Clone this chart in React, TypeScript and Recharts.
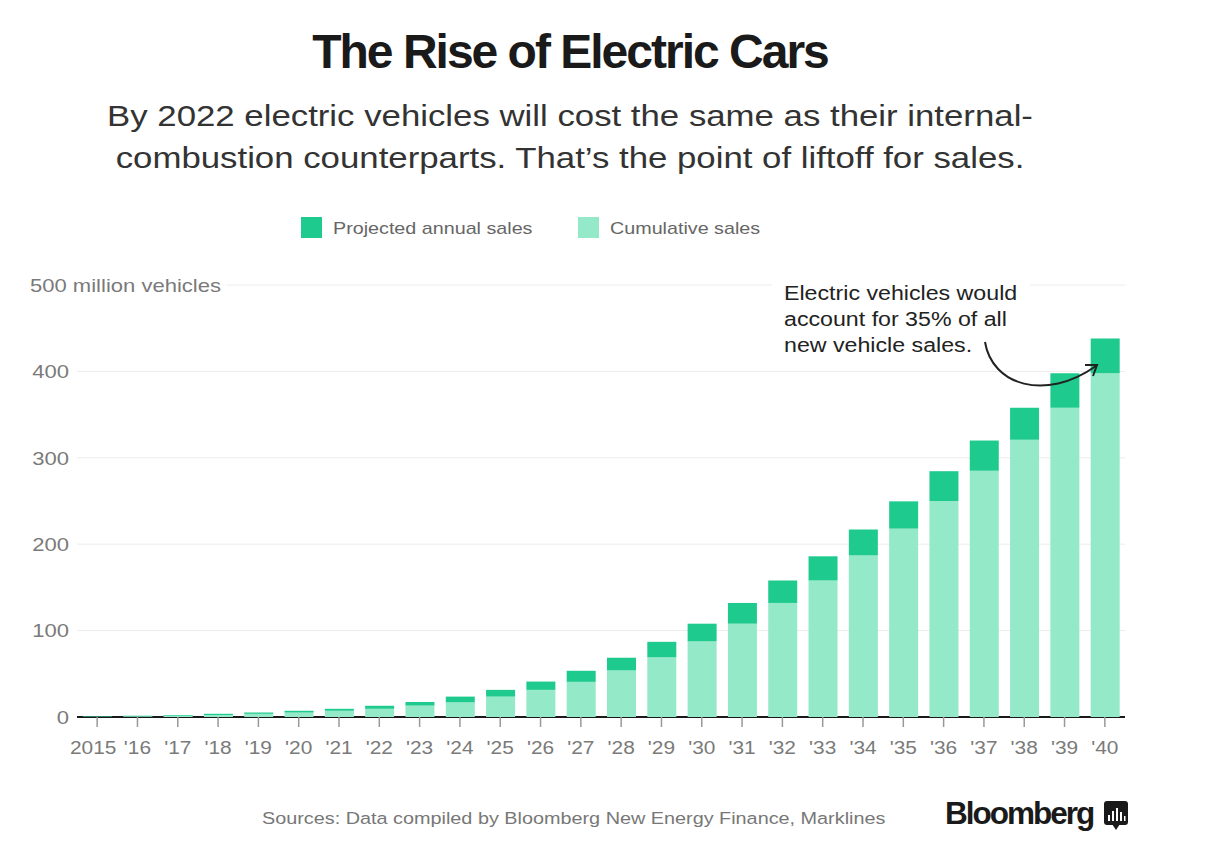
import React from 'react';
import { BarChart, Bar, XAxis, YAxis, CartesianGrid, Legend } from 'recharts';

const years = ['2015', "'16", "'17", "'18", "'19", "'20", "'21", "'22", "'23", "'24", "'25", "'26", "'27", "'28", "'29", "'30", "'31", "'32", "'33", "'34", "'35", "'36", "'37", "'38", "'39", "'40"];
const cumulativeSales = [0.3, 0.8, 1.5, 2.3, 3.7, 5.2, 7.2, 9.5, 13.2, 17, 23.6, 31.4, 40.7, 54, 69, 87.6, 108, 132, 158, 187, 218, 250, 285, 321, 358, 398];
const annualSales = [0.5, 0.7, 0.8, 1.4, 1.5, 2.0, 2.3, 3.5, 4.2, 6.6, 7.8, 9.6, 12.8, 14.6, 18, 20.4, 24, 26, 28, 30, 31.6, 34.5, 35, 37, 40, 40];
const yTicks = [0, 100, 200, 300, 400, 500];

const data = years.map((year, i) => ({
  year,
  cumulative: cumulativeSales[i],
  annual: annualSales[i],
}));

const FONT = '"Liberation Sans", Arial, Helvetica, sans-serif';
const SX = 1.16;
const DARK = '#1ECA8D';
const LIGHT = '#94E9C9';

const YTick = (props: any) => {
  const { x, y, payload } = props;
  if (payload.value === 500) {
    return (
      <g>
        <rect x={x - 42} y={y - 12} width={200} height={24} fill="#fff" />
        <g transform={`translate(${x - 39},${y})`}>
          <text transform={`scale(${SX},1)`} x={0} y={0} dy="0.36em" textAnchor="start" fill="#7a7a7a" fontSize={19} fontFamily={FONT}>
            500 million vehicles
          </text>
        </g>
      </g>
    );
  }
  return (
    <g transform={`translate(${x},${y})`}>
      <text transform={`scale(${SX},1)`} x={0} y={0} dy="0.36em" textAnchor="end" fill="#7a7a7a" fontSize={19} fontFamily={FONT}>
        {payload.value}
      </text>
    </g>
  );
};

const XTick = (props: any) => {
  const { x, y, payload, index } = props;
  const shift = index === 0 ? -4 : 0;
  return (
    <g transform={`translate(${x + shift},${y})`}>
      <text transform={`scale(${SX},1)`} x={0} y={24} textAnchor="middle" fill="#7a7a7a" fontSize={18} fontFamily={FONT}>
        {payload.value}
      </text>
    </g>
  );
};

const legendItems = [
  { label: 'Projected annual sales', color: DARK },
  { label: 'Cumulative sales', color: LIGHT },
];

const LegendContent = () => (
  <svg width={1212} height={30} style={{ display: 'block' }}>
    {legendItems.map((item, i) => (
      <g key={item.label} transform={`translate(${301 + i * 277},0)`}>
        <rect x={0} y={5} width={21} height={21} fill={item.color} />
        <g transform="translate(32,22)">
          <text transform={`scale(${SX},1)`} fill="#666" fontSize={17} fontFamily={FONT}>
            {item.label}
          </text>
        </g>
      </g>
    ))}
  </svg>
);

export default function App() {
  return (
    <div style={{ position: 'absolute', left: 0, top: 0, width: 1212, height: 855, background: '#fff', overflow: 'hidden', fontFamily: FONT }}>
      <BarChart
        width={1212}
        height={855}
        data={data}
        margin={{ top: 285, right: 87, bottom: 98, left: 0 }}
        barSize={29}
      >
        <CartesianGrid vertical={false} stroke="#ececec" strokeWidth={1} />
        <YAxis
          domain={[0, 500]}
          ticks={yTicks}
          width={77}
          axisLine={false}
          tickLine={false}
          tick={<YTick />}
          interval={0}
        />
        <XAxis
          dataKey="year"
          height={40}
          interval={0}
          axisLine={{ stroke: '#1a1a1a', strokeWidth: 2 }}
          tickLine={{ stroke: '#999', strokeWidth: 1.5 }}
          tickSize={10}
          tickMargin={3}
          tick={<XTick />}
          zIndex={-50}
        />
        <Legend
          layout="horizontal"
          verticalAlign="middle"
          align="center"
          content={<LegendContent />}
          wrapperStyle={{ top: 212, left: 0, width: 1212, height: 30 }}
        />
        <Bar dataKey="cumulative" name="Cumulative sales" stackId="s" fill={LIGHT} isAnimationActive={false} />
        <Bar dataKey="annual" name="Projected annual sales" stackId="s" fill={DARK} isAnimationActive={false} />
      </BarChart>

      <svg width={1212} height={855} style={{ position: 'absolute', left: 0, top: 0, pointerEvents: 'none' }}>
        <text x={570} y={68} textAnchor="middle" fill="#1a1a1a" fontSize={48} fontWeight={700} letterSpacing={-2} fontFamily={FONT}>
          The Rise of Electric Cars
        </text>
        <g transform="translate(570,0)">
          <g transform={`scale(${SX},1)`}>
            <text x={0} y={126} textAnchor="middle" fill="#333" fontSize={30} fontFamily={FONT}>
              By 2022 electric vehicles will cost the same as their internal-
            </text>
            <text x={0} y={168} textAnchor="middle" fill="#333" fontSize={30} fontFamily={FONT}>
              combustion counterparts. That’s the point of liftoff for sales.
            </text>
          </g>
        </g>

        <rect x={772} y={279} width={258} height={12} fill="#fff" />
        <g transform="translate(784,0)">
          <g transform={`scale(${SX},1)`}>
            <text x={0} y={300} fill="#222" fontSize={20} fontFamily={FONT}>Electric vehicles would</text>
            <text x={0} y={326} fill="#222" fontSize={20} fontFamily={FONT}>account for 35% of all</text>
            <text x={0} y={352} fill="#222" fontSize={20} fontFamily={FONT}>new vehicle sales.</text>
          </g>
        </g>
        <path d="M 985 342 C 992 385, 1045 402, 1096 366" fill="none" stroke="#222" strokeWidth={2} />
        <path d="M 1085 365 L 1097 365 L 1093 376" fill="none" stroke="#222" strokeWidth={2} strokeLinejoin="miter" />

        <g transform="translate(262,824)">
          <text transform={`scale(${SX},1)`} fill="#777" fontSize={17.1} fontFamily={FONT}>
            Sources: Data compiled by Bloomberg New Energy Finance, Marklines
          </text>
        </g>
        <text x={945} y={824} fill="#1a1a1a" fontSize={31.5} fontWeight={700} letterSpacing={-2} fontFamily={FONT}>
          Bloomberg
        </text>
        <g>
          <rect x={1104} y={801} width={24} height={24} rx={3} fill="#1a1a1a" />
          <path d="M 1112 824 L 1116 830 L 1120 824 Z" fill="#1a1a1a" />
          <rect x={1108} y={815} width={2} height={6} fill="#fff" />
          <rect x={1112} y={811} width={2} height={10} fill="#fff" />
          <rect x={1116} y={808} width={2} height={13} fill="#fff" />
          <rect x={1120} y={812} width={2} height={9} fill="#fff" />
          <rect x={1124} y={816} width={1.5} height={5} fill="#fff" />
        </g>
      </svg>
    </div>
  );
}
